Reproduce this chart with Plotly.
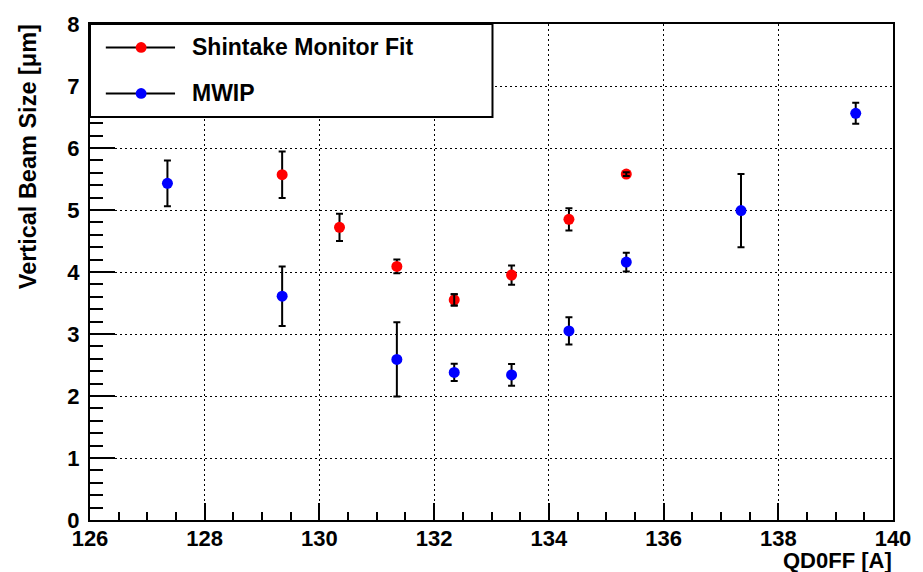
import plotly.graph_objects as go

# ---- data ----
shintake_x = [129.35, 130.35, 131.35, 132.35, 133.35, 134.35, 135.35]
shintake_y = [5.57, 4.72, 4.09, 3.55, 3.95, 4.85, 5.58]
shintake_err = [0.375, 0.22, 0.11, 0.09, 0.155, 0.18, 0.03]

mwip_x = [127.35, 129.35, 131.35, 132.35, 133.35, 134.35, 135.35, 137.35, 139.35]
mwip_y = [5.43, 3.61, 2.59, 2.38, 2.34, 3.05, 4.16, 4.99, 6.56]
mwip_err = [0.37, 0.48, 0.60, 0.14, 0.175, 0.22, 0.15, 0.59, 0.17]

legend_labels = ["Shintake Monitor Fit", "MWIP"]
x_title = "QD0FF [A]"
y_title = "Vertical Beam Size [\u03bcm]"

W, H = 923, 572
L, R, T, B = 90, 902, 13, 520
FONT = "Liberation Sans, Arial, sans-serif"


def px(x):
    return (x - L) / (R - L)


def py(y):
    return (B - y) / (B - T)


fig = go.Figure()

err_style = dict(type="data", visible=True, color="black", thickness=2, width=3.5)

fig.add_trace(go.Scatter(
    x=shintake_x, y=shintake_y, mode="markers", name=legend_labels[0],
    marker=dict(color="#ff0000", size=11, line=dict(width=0)),
    error_y=dict(array=shintake_err, **err_style), showlegend=False))
fig.add_trace(go.Scatter(
    x=mwip_x, y=mwip_y, mode="markers", name=legend_labels[1],
    marker=dict(color="#0000ff", size=11, line=dict(width=0)),
    error_y=dict(array=mwip_err, **err_style), showlegend=False))

# small error bars drawn over markers (as in the original)
small = [(x, y, e) for x, y, e in zip(shintake_x + mwip_x, shintake_y + mwip_y,
                                      shintake_err + mwip_err) if e < 0.1]
fig.add_trace(go.Scatter(
    x=[s[0] for s in small], y=[s[1] for s in small], mode="markers",
    marker=dict(color="rgba(0,0,0,0)", size=11),
    error_y=dict(array=[s[2] for s in small], **err_style),
    showlegend=False, hoverinfo="skip"))

shapes = []
annotations = []

# legend box
shapes.append(dict(type="rect", xref="paper", yref="paper",
                   x0=px(90), x1=px(497), y0=py(108), y1=py(13),
                   fillcolor="white", line=dict(color="black", width=2), layer="above"))
colors = ["#ff0000", "#0000ff"]
for i, (lab, c) in enumerate(zip(legend_labels, colors)):
    yy = [37, 84][i]
    shapes.append(dict(type="line", xref="paper", yref="paper",
                       x0=px(106), x1=px(176), y0=py(yy), y1=py(yy),
                       line=dict(color="black", width=2), layer="above"))
    shapes.append(dict(type="circle", xref="paper", yref="paper",
                       x0=px(141.7 - 5.5), x1=px(141.7 + 5.5),
                       y0=py(yy + 5.5), y1=py(yy - 5.5),
                       fillcolor=c, line=dict(width=0), layer="above"))
    annotations.append(dict(text=lab, xref="paper", yref="paper", x=px(191), y=py(yy),
                            xanchor="left", yanchor="middle", showarrow=False,
                            font=dict(family=FONT, size=23, color="black", weight="bold")))

annotations.append(dict(text=x_title, xref="paper", yref="paper", x=px(903), y=py(561),
                        xanchor="right", yanchor="middle", showarrow=False,
                        font=dict(family=FONT, size=22, color="black", weight="bold")))
annotations.append(dict(text=y_title, xref="paper", yref="paper", x=px(27), y=py(11),
                        xanchor="center", yanchor="top", showarrow=False, textangle=-90,
                        font=dict(family=FONT, size=23.5, color="black", weight="bold")))

axis_common = dict(
    showline=True, linecolor="black", linewidth=2, mirror=True,
    showgrid=True, gridcolor="black", gridwidth=1.3, griddash="2px,3px",
    zeroline=False, ticks="inside", tickcolor="black", tickwidth=2,
    tickfont=dict(family=FONT, size=22, color="black", weight="bold"),
)

fig.update_layout(
    width=W, height=H,
    margin=dict(l=L, r=W - R, t=T, b=H - B),
    paper_bgcolor="white", plot_bgcolor="white",
    xaxis=dict(range=[126, 140], dtick=2, tick0=126, ticklen=17,
               minor=dict(dtick=0.5, ticks="inside", ticklen=8, tickcolor="black",
                          tickwidth=2, showgrid=False),
               ticklabelstandoff=-2, **axis_common),
    yaxis=dict(range=[0, 8], dtick=1, tick0=0, ticklen=25,
               minor=dict(dtick=0.2, ticks="inside", ticklen=13, tickcolor="black",
                          tickwidth=2, showgrid=False),
               ticklabelstandoff=4, **axis_common),
    shapes=shapes, annotations=annotations,
    showlegend=False,
)

fig.write_html("out.html")
